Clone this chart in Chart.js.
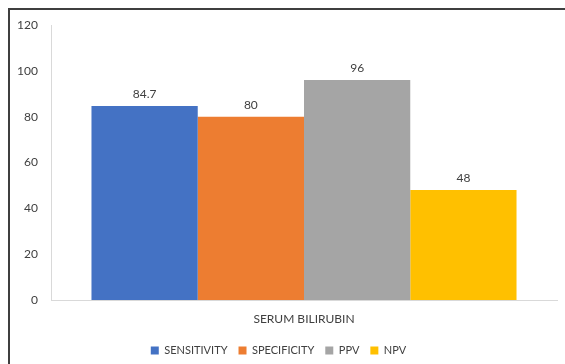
<!DOCTYPE html>
<html>
<head>
<meta charset="utf-8">
<script src="https://cdn.jsdelivr.net/npm/chart.js@4"></script>
<style>
  html, body { margin: 0; padding: 0; background: #ffffff; }
  #wrap { position: relative; width: 565px; height: 364px; overflow: hidden; }
  #frame { position: absolute; left: 8px; top: 8px; width: 700px; height: 500px;
           border-top: 2px solid #3f3f3f; border-left: 2px solid #3f3f3f; box-sizing: border-box; }
  canvas { position: absolute; left: 0; top: 0; }
</style>
</head>
<body>
<div id="wrap">
  <div id="frame"></div>
  <canvas id="c" width="565" height="364"></canvas>
</div>
<script>
const categories = ['SERUM BILIRUBIN'];
const seriesNames = ['SENSITIVITY', 'SPECIFICITY', 'PPV', 'NPV'];
const sensitivity = [84.7];
const specificity = [80];
const ppv = [96];
const npv = [48];
const yTicks = [0, 20, 40, 60, 80, 100, 120];

const colors = ['#4472c4', '#ed7d31', '#a5a5a5', '#ffc000'];
const values = [sensitivity, specificity, ppv, npv];
const FONT = 'Lato, "Liberation Sans", sans-serif';
const BOTTOM_PAD = -2;

// Writes each bar's value just above it
const valueLabels = {
  id: 'valueLabels',
  afterDatasetsDraw(chart) {
    const ctx = chart.ctx;
    ctx.save();
    ctx.font = '12px ' + FONT;
    ctx.fillStyle = '#404040';
    ctx.textAlign = 'center';
    ctx.textBaseline = 'bottom';
    chart.data.datasets.forEach((ds, i) => {
      chart.getDatasetMeta(i).data.forEach((bar, j) => {
        ctx.fillText(String(ds.data[j]), bar.x, bar.y - 6);
      });
    });
    ctx.restore();
  }
};

new Chart(document.getElementById('c'), {
  type: 'bar',
  data: {
    labels: categories,
    datasets: seriesNames.map((name, i) => ({
      label: name,
      data: values[i],
      backgroundColor: colors[i],
      borderWidth: 0,
      categoryPercentage: 0.84,
      barPercentage: 1.0
    }))
  },
  options: {
    responsive: false,
    animation: false,
    devicePixelRatio: 1,
    layout: { padding: { left: 0, right: 8, top: 25, bottom: BOTTOM_PAD } },
    plugins: {
      legend: {
        position: 'bottom',
        labels: {
          font: { family: FONT, size: 11 },
          color: '#404040',
          boxWidth: 8,
          boxHeight: 8,
          padding: 11
        }
      },
      tooltip: { enabled: false }
    },
    scales: {
      x: {
        grid: { display: false, drawTicks: false },
        border: { color: '#d9d9d9', width: 1 },
        ticks: { font: { family: FONT, size: 12 }, color: '#404040', padding: 12 },
        afterFit(scale) { scale.height = 364 - BOTTOM_PAD - scale.chart.legend.height - 300; }
      },
      y: {
        min: 0, max: 120,
        afterBuildTicks(scale) { scale.ticks = yTicks.map(v => ({ value: v })); },
        grid: { display: false, drawTicks: false },
        border: { color: '#d9d9d9', width: 1 },
        ticks: { font: { family: FONT, size: 12 }, color: '#404040', padding: 13 },
        afterFit(scale) { scale.width = 51; }
      }
    }
  },
  plugins: [valueLabels]
});
</script>
</body>
</html>
